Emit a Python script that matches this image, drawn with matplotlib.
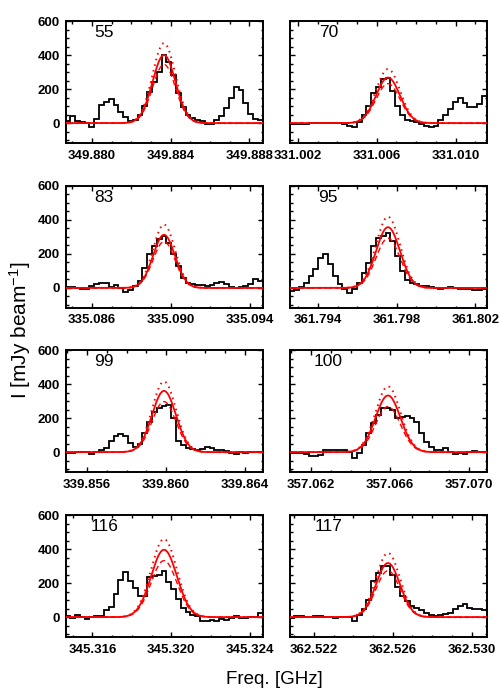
import numpy as np
import matplotlib
matplotlib.use("Agg")
import matplotlib.pyplot as plt
from matplotlib.ticker import MultipleLocator, FixedLocator

plt.rcParams['font.family'] = ['Liberation Sans', 'DejaVu Sans']
plt.rcParams['mathtext.default'] = 'regular'

# ---------------- data ----------------
panel_ids = ["55", "70", "83", "95", "99", "100", "116", "117"]
line_centers = [349.88366, 331.00657, 335.08965, 361.79756,
                339.85990, 357.06590, 345.31963, 362.52576]   # GHz
channel_width = 0.000244  # GHz

xtick_values = [
    [349.880, 349.884, 349.888],
    [331.002, 331.006, 331.010],
    [335.086, 335.090, 335.094],
    [361.794, 361.798, 361.802],
    [339.856, 339.860, 339.864],
    [357.062, 357.066, 357.070],
    [345.316, 345.320, 345.324],
    [362.522, 362.526, 362.530],
]
xtick_labels = [
    ["349.880", "349.884", "349.888"],
    ["331.002", "331.006", "331.010"],
    ["335.086", "335.090", "335.094"],
    ["361.794", "361.798", "361.802"],
    ["339.856", "339.860", "339.864"],
    ["357.062", "357.066", "357.070"],
    ["345.316", "345.320", "345.324"],
    ["362.522", "362.526", "362.530"],
]

# observed spectra (mJy/beam), one value per channel
spec_55 = [15, 40, 12, 5, 0, -20, 22, 107, 122, 140, 108, 68, 38, 10, 18, 45, 100, 185, 240, 300,
           400, 360, 280, 180, 95, 50, 30, 16, 10, -4, -4, 18, 40, 88, 150, 210, 195, 118, 55, 25, 20]
spec_70 = [-5, -4, -3, -3, -2, 2, 2, 3, 2, 0, -2, -5, -14, -23, 6, 45, 103, 178, 211, 260,
           264, 191, 103, 45, 16, 10, 6, -4, -14, -23, -14, 16, 45, 84, 127, 146, 119, 94, 94, 113, 158]
spec_83 = [6, 6, 0, -8, -8, 12, 25, 31, 31, 6, 18, 0, -21, -14, 12, 41, 119, 197, 246, 285,
           304, 265, 197, 129, 60, 31, 21, 16, 16, 12, 18, 31, 37, 25, 6, 0, 6, 12, 25, 51, 41]
spec_95 = [-18, -14, 6, 31, 70, 109, 178, 197, 139, 70, 21, -8, -27, -8, 31, 90, 148, 246, 295, 304,
           324, 275, 187, 100, 45, 31, 21, 12, 12, 6, 0, -8, -2, 6, 2, -8, -8, -8, -14, -14, -4]
spec_99 = [-6, -6, 0, -2, 0, -10, 0, 14, 23, 68, 92, 108, 92, 53, 33, 45, 115, 180, 238, 262,
           272, 275, 200, 63, 43, 23, 18, 14, 18, 29, 22, 14, 10, 4, -6, -10, -2, -6, 0, 0, 0]
spec_100 = [-6, -4, -6, -10, -25, -21, -15, 10, 10, 14, 14, 10, 0, -35, -6, 43, 115, 170, 219, 258,
            258, 248, 200, 209, 213, 200, 180, 111, 57, 29, 10, 10, 23, 0, -10, -6, -10, -2, 4, 0, -2]
spec_116 = [6, -6, 10, 0, -10, -2, 4, 6, 39, 59, 137, 220, 263, 215, 170, 123, 123, 234, 240, 248,
            269, 205, 166, 107, 53, 29, 14, 6, -20, -20, -14, -25, -10, -16, -6, 4, -6, -6, -2, -2, 25]
spec_117 = [-6, 6, 6, 2, 0, 6, 6, 0, -2, -6, 2, -2, -2, -21, 10, 49, 103, 215, 260, 299,
            299, 248, 176, 123, 92, 64, 53, 39, 25, 14, 6, 14, 20, 25, 45, 68, 78, 53, 49, 45, 39]
spectra = [spec_55, spec_70, spec_83, spec_95, spec_99, spec_100, spec_116, spec_117]

# Gaussian fits: amplitude (mJy/beam) of solid, dashed and dotted models, and sigma (GHz)
amp_solid = [400, 268, 312, 357, 360, 333, 396, 318]
amp_dashed = [345, 232, 272, 292, 297, 268, 332, 273]
amp_dotted = [470, 318, 372, 418, 415, 386, 459, 377]
sigma_ghz = [0.000582, 0.000608, 0.000557, 0.000608, 0.000608, 0.000633, 0.000658, 0.000608]

# ---------------- layout ----------------
W, H = 500, 700
fig = plt.figure(figsize=(5, 7), dpi=100)
col_left = [65.5, 289.5]
col_w = 197.0
row_top = [20.7, 185.5, 349.7, 514.7]
row_h = 122.0

half_span = 0.005
ylims = (-115, 602)

for i in range(8):
    r, c = divmod(i, 2)
    l = col_left[c] / W
    b = 1 - (row_top[r] + row_h) / H
    ax = fig.add_axes([l, b, col_w / W, row_h / H])
    cen = line_centers[i]
    n = len(spectra[i])
    edges = cen + (np.arange(n + 1) - n / 2.0) * channel_width
    ax.stairs(spectra[i], edges, baseline=None, color='black', lw=1.3, zorder=2)

    xx = np.linspace(cen - half_span, cen + half_span, 600)
    g = np.exp(-0.5 * ((xx - cen) / sigma_ghz[i]) ** 2)
    ax.plot(xx, amp_solid[i] * g, color='red', lw=1.3, zorder=4)
    ax.plot(xx, amp_dashed[i] * g, color='red', lw=1.0, ls=(0, (4, 2.5)), zorder=3)
    ax.plot(xx, amp_dotted[i] * g, color='red', lw=1.4, ls=(0, (0.8, 2.2)), zorder=3)

    ax.set_xlim(cen - half_span, cen + half_span)
    ax.set_ylim(*ylims)
    ax.set_xticks(xtick_values[i], xtick_labels[i])
    t0 = xtick_values[i][0]
    ax.xaxis.set_minor_locator(FixedLocator(t0 + 0.001 * np.arange(-8, 16)))
    ax.yaxis.set_major_locator(MultipleLocator(200))
    ax.yaxis.set_minor_locator(MultipleLocator(50))
    ax.tick_params(which='both', direction='in', top=True, right=True, width=1.0, colors='black')
    ax.tick_params(which='major', length=3.5)
    ax.tick_params(which='minor', length=1.8)
    ax.tick_params(axis='x', which='major', pad=5)
    ax.tick_params(axis='y', which='major', pad=4)
    for lab in ax.get_xticklabels() + ax.get_yticklabels():
        lab.set_fontsize(9.5)
        lab.set_fontweight('bold')
    if c == 1:
        ax.set_yticklabels([])
    for sp in ax.spines.values():
        sp.set_linewidth(1.4)
    ax.text(0.197, 0.905, panel_ids[i], transform=ax.transAxes, fontsize=12.5,
            ha='center', va='center', color='black')

fig.text(274 / W, 1 - 680 / H, 'Freq. [GHz]', fontsize=13.5, ha='center', va='center')
fig.text(20 / W, 1 - 330 / H, 'I [mJy beam$^{-1}$]', fontsize=15, ha='center', va='center',
         rotation=90)

fig.savefig('out.png', dpi=100)
